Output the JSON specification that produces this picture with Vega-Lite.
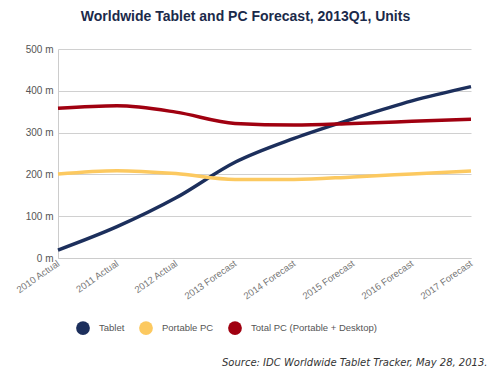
{
  "$schema": "https://vega.github.io/schema/vega-lite/v6.json",
  "width": 413,
  "height": 209,
  "autosize": "none",
  "padding": {"left": 58, "top": 49, "right": 20, "bottom": 114},
  "background": "white",
  "title": {
    "text": "Worldwide Tablet and PC Forecast, 2013Q1, Units",
    "font": "Liberation Sans",
    "fontSize": 14,
    "fontWeight": "bold",
    "color": "#1b2a4a",
    "anchor": "middle",
    "dx": -19,
    "offset": 20
  },
  "data": {
    "values": [
      {"year": "2010 Actual", "series": "Tablet", "units": 19},
      {"year": "2011 Actual", "series": "Tablet", "units": 75},
      {"year": "2012 Actual", "series": "Tablet", "units": 144},
      {"year": "2013 Forecast", "series": "Tablet", "units": 229},
      {"year": "2014 Forecast", "series": "Tablet", "units": 286},
      {"year": "2015 Forecast", "series": "Tablet", "units": 333},
      {"year": "2016 Forecast", "series": "Tablet", "units": 376},
      {"year": "2017 Forecast", "series": "Tablet", "units": 410},
      {"year": "2010 Actual", "series": "Portable PC", "units": 201},
      {"year": "2011 Actual", "series": "Portable PC", "units": 209},
      {"year": "2012 Actual", "series": "Portable PC", "units": 202},
      {"year": "2013 Forecast", "series": "Portable PC", "units": 188},
      {"year": "2014 Forecast", "series": "Portable PC", "units": 188},
      {"year": "2015 Forecast", "series": "Portable PC", "units": 194},
      {"year": "2016 Forecast", "series": "Portable PC", "units": 201},
      {"year": "2017 Forecast", "series": "Portable PC", "units": 208},
      {"year": "2010 Actual", "series": "Total PC (Portable + Desktop)", "units": 358},
      {"year": "2011 Actual", "series": "Total PC (Portable + Desktop)", "units": 364},
      {"year": "2012 Actual", "series": "Total PC (Portable + Desktop)", "units": 349},
      {"year": "2013 Forecast", "series": "Total PC (Portable + Desktop)", "units": 322},
      {"year": "2014 Forecast", "series": "Total PC (Portable + Desktop)", "units": 318},
      {"year": "2015 Forecast", "series": "Total PC (Portable + Desktop)", "units": 322},
      {"year": "2016 Forecast", "series": "Total PC (Portable + Desktop)", "units": 327},
      {"year": "2017 Forecast", "series": "Total PC (Portable + Desktop)", "units": 332}
    ]
  },
  "mark": {"type": "line", "strokeWidth": 3.5, "interpolate": "monotone"},
  "encoding": {
    "x": {
      "field": "year",
      "type": "ordinal",
      "sort": null,
      "scale": {"type": "point", "padding": 0},
      "axis": {
        "title": "Source: IDC Worldwide Tablet Tracker, May 28, 2013.",
        "titleFont": "DejaVu Sans",
        "titleFontStyle": "italic",
        "titleFontWeight": "normal",
        "titleFontSize": 10,
        "titleColor": "#333333",
        "titleAnchor": "end",
        "titleAlign": "right",
        "titleBaseline": "alphabetic",
        "titleX": 429,
        "titleY": 107,
        "labelAngle": -35,
        "labelAlign": "right",
        "labelBaseline": "middle",
        "labelFont": "Liberation Sans",
        "labelFontSize": 9.5,
        "labelColor": "#777777",
        "labelPadding": 4,
        "ticks": false,
        "domainColor": "#cccccc",
        "grid": false
      }
    },
    "y": {
      "field": "units",
      "type": "quantitative",
      "scale": {"domain": [0, 500]},
      "axis": {
        "title": null,
        "values": [0, 100, 200, 300, 400, 500],
        "labelExpr": "datum.value + ' m'",
        "labelFont": "Liberation Sans",
        "labelFontSize": 10,
        "labelColor": "#555555",
        "labelPadding": 5,
        "ticks": false,
        "domain": true,
        "domainColor": "#cccccc",
        "gridColor": "#d0d0d0"
      }
    },
    "color": {
      "field": "series",
      "type": "nominal",
      "sort": null,
      "scale": {
        "domain": ["Tablet", "Portable PC", "Total PC (Portable + Desktop)"],
        "range": ["#1c2f5c", "#fcc960", "#a00010"]
      },
      "legend": {
        "title": null,
        "orient": "none",
        "direction": "horizontal",
        "legendX": 18,
        "legendY": 272,
        "symbolType": "circle",
        "symbolSize": 190,
        "symbolStrokeWidth": 0,
        "symbolOpacity": 1,
        "labelFont": "Liberation Sans",
        "labelFontSize": 9.5,
        "labelColor": "#555555",
        "labelOffset": 9,
        "columnPadding": 14,
        "encode": {
          "symbols": {
            "update": {
              "fill": {"scale": "color", "field": "value"},
              "opacity": {"value": 1}
            }
          }
        }
      }
    }
  },
  "config": {"view": {"stroke": null}}
}
